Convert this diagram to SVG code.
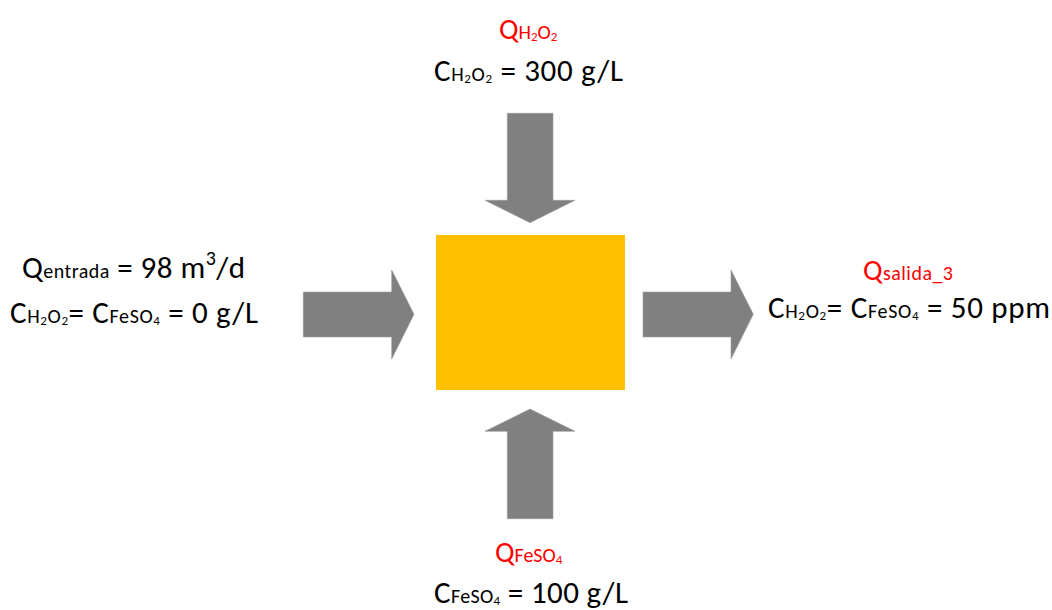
<svg xmlns="http://www.w3.org/2000/svg" width="1052" height="610" viewBox="0 0 1052 610">
<style>
.t{font-family:Carlito,Lato,"Liberation Sans",sans-serif;font-size:31px;fill:#000}
.r{fill:#FF0000}
.q{font-size:29px}
.s{font-size:20px}
.ss{font-size:13px}
.arr{fill:#808080;stroke:#9a9a9a;stroke-width:0.6}
</style>
<rect width="1052" height="610" fill="#fff"/>
<g id="reactor"><rect x="436" y="235" width="189" height="155" fill="#FFC000"/></g>
<g id="connectors">
<polygon class="arr" points="507.3,113.3 553,113.3 553,200.3 575,200.3 530,222.7 485,200.3 507.3,200.3"/>
<polygon class="arr" points="303.3,292 391.7,292 391.7,270 414,314.3 391.7,359 391.7,337 303.3,337"/>
<polygon class="arr" points="643,292 731,292 731,270 753.3,314.3 731,359 731,337 643,337"/>
<polygon class="arr" points="507.3,518.7 553,518.7 553,431.3 575,431.3 530,409 485,431.3 507.3,431.3"/>
</g>
<g id="label-top">
<text class="t r" x="499" y="39"><tspan class="q">Q</tspan><tspan class="s">H</tspan><tspan class="ss" dy="2">2</tspan><tspan class="s" dy="-2">O</tspan><tspan class="ss" dy="2">2</tspan></text>
<text class="t" x="434" y="81" textLength="189">C<tspan class="s">H</tspan><tspan class="ss" dy="2">2</tspan><tspan class="s" dy="-2">O</tspan><tspan class="ss" dy="2">2</tspan><tspan dy="-2"> = 300 g/L</tspan></text>
</g>
<g id="label-left">
<text class="t" x="22" y="278" textLength="223">Q<tspan class="s">entrada</tspan><tspan> = 98 m</tspan><tspan class="s" dy="-13">3</tspan><tspan dy="13">/d</tspan></text>
<text class="t" x="10" y="323" textLength="248">C<tspan class="s">H</tspan><tspan class="ss" dy="2">2</tspan><tspan class="s" dy="-2">O</tspan><tspan class="ss" dy="2">2</tspan><tspan dy="-2">= C</tspan><tspan class="s">FeSO</tspan><tspan class="ss" dy="2">4</tspan><tspan dy="-2"> = 0 g/L</tspan></text>
</g>
<g id="label-right">
<text class="t r" x="863" y="280" textLength="90"><tspan class="q">Q</tspan><tspan class="s">salida_3</tspan></text>
<text class="t" x="768" y="318" textLength="282">C<tspan class="s">H</tspan><tspan class="ss" dy="2">2</tspan><tspan class="s" dy="-2">O</tspan><tspan class="ss" dy="2">2</tspan><tspan dy="-2">= C</tspan><tspan class="s">FeSO</tspan><tspan class="ss" dy="2">4</tspan><tspan dy="-2"> = 50 ppm</tspan></text>
</g>
<g id="label-bottom">
<text class="t r" x="495" y="562"><tspan class="q">Q</tspan><tspan class="s">FeSO</tspan><tspan class="ss" dy="2">4</tspan></text>
<text class="t" x="434" y="603" textLength="194">C<tspan class="s">FeSO</tspan><tspan class="ss" dy="2">4</tspan><tspan dy="-2"> = 100 g/L</tspan></text>
</g>
</svg>
